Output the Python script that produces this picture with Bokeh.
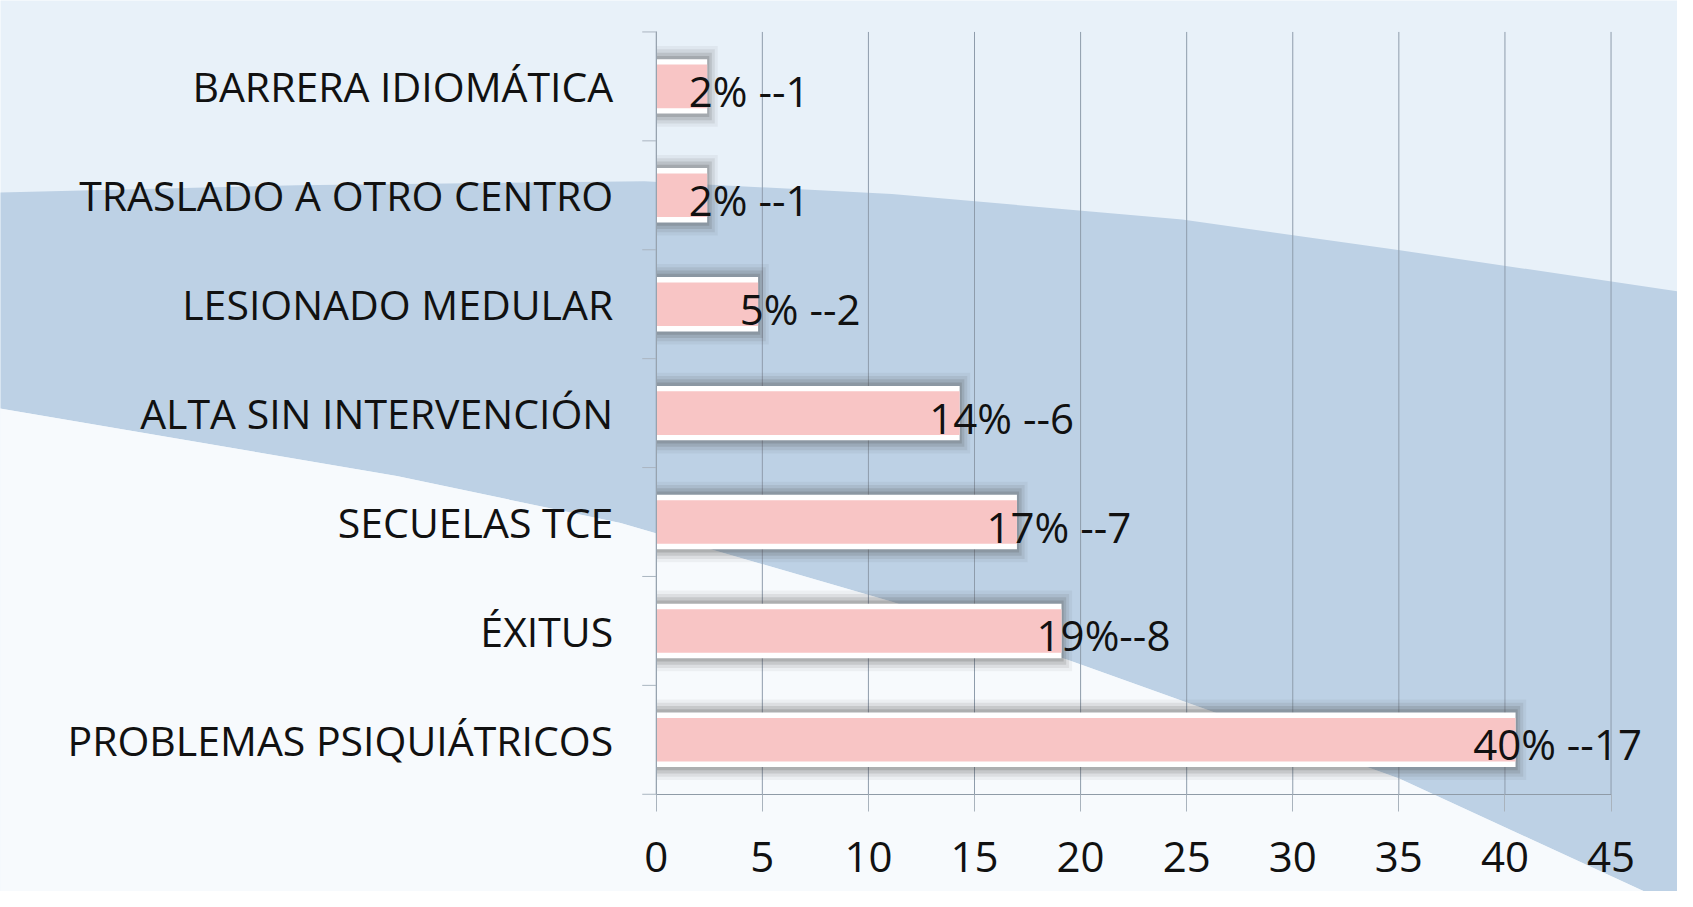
import math
from bokeh.plotting import figure
from bokeh.models import Range1d, LinearAxis, FixedTicker, ColumnDataSource
from bokeh.core.properties import value
from bokeh.embed import file_html
from bokeh.resources import INLINE

# ---- data (top to bottom as in the chart) ----
categories = ["BARRERA IDIOMÁTICA", "TRASLADO A OTRO CENTRO", "LESIONADO MEDULAR",
              "ALTA SIN INTERVENCIÓN", "SECUELAS TCE", "ÉXITUS", "PROBLEMAS PSIQUIÁTRICOS"]
percent = [2.4, 2.4, 4.8, 14.3, 17.0, 19.1, 40.5]
labels = ["2% --1", "2% --1", "5% --2", "14% --6", "17% --7", "19%--8", "40% --17"]
x_ticks = [0, 5, 10, 15, 20, 25, 30, 35, 40, 45]

FONT_NAME = "Open Sans"
FONT = value(FONT_NAME)
W, H = 1677, 891
KX, KY = W / 1693.0, H / 907.0     # reference-pixel -> canvas-pixel scale
X0_PX, XUNIT = 662.0 * KX, 21.42 * KX     # canvas x of value 0, px per unit
Y0_PX, YUNIT = 752.6 * KY, 110.86 * KY    # canvas y of bottom category, px per category

n = len(categories)
pos = [n - 1 - i for i in range(n)]

p = figure(width=W, height=H, output_backend="svg", toolbar_location=None,
           x_range=Range1d(-X0_PX / XUNIT, (W - X0_PX) / XUNIT),
           y_range=Range1d(-(H - Y0_PX) / YUNIT, Y0_PX / YUNIT),
           x_axis_type=None, y_axis_type=None, min_border=0)
p.outline_line_color = None
p.background_fill_color = "#e8f1f9"
p.border_fill_color = "#e8f1f9"

def px2x(px):
    return (px * KX - X0_PX) / XUNIT

def py2y(py):
    return (Y0_PX - py * KY) / YUNIT

# decorative background swoosh (outline in reference pixels)
top_edge = [(-20, 196), (300, 188), (650, 184), (900, 197), (1193, 223), (1411, 254), (1720, 300)]
bot_edge = [(1720, 935), (1412, 792), (1080, 672), (900, 612), (626, 532), (400, 484), (-20, 412)]
band = top_edge + bot_edge
p.patch([px2x(a) for a, b in band], [py2y(b) for a, b in band], color="#bdd1e5", line_color=None)
low = bot_edge + [(-20, 940)]
p.patch([px2x(a) for a, b in low], [py2y(b) for a, b in low], color="#f7fafd", line_color=None)

# grid lines (bounded to the plot area)
p.segment(x0=x_ticks, y0=[-0.5] * len(x_ticks), x1=x_ticks, y1=[n - 0.5] * len(x_ticks),
          line_color="#8e9cab", line_width=1)

# boundary tick marks of the category axis
boundaries = [i - 0.5 for i in range(n + 1)]
p.ray(x=[0] * len(boundaries), y=boundaries, length=14, length_units="screen",
      angle=math.pi, line_color="#aab5c0", line_width=1)

src = ColumnDataSource(dict(y=pos, v=percent, lab=labels,
                            s1=[v + 0.50 for v in percent],
                            s2=[v + 0.36 for v in percent],
                            s3=[v + 0.22 for v in percent],
                            s4=[v + 0.10 for v in percent]))

# shadow layers
for col, hgt, a in (("s1", 0.74, 0.06), ("s2", 0.68, 0.10), ("s3", 0.62, 0.15), ("s4", 0.56, 0.20)):
    p.hbar(y="y", left=0, right=col, height=hgt, source=src, fill_color="#4a4a4a",
           fill_alpha=a, line_color=None)
# white rim + pink fill
p.hbar(y="y", left=0, right="v", height=0.50, source=src, fill_color="#ffffff", line_color=None)
p.hbar(y="y", left=0, right="v", height=0.40, source=src, fill_color="#f8c5c5", line_color=None)

p.text(x="v", y="y", text="lab", source=src, x_offset=42, y_offset=4,
       text_align="center", text_baseline="middle", text_font=FONT,
       text_font_size="42px", text_color="#111111")

# category axis (line at 0, labels at the category centres)
ylab = LinearAxis(fixed_location=0, ticker=FixedTicker(ticks=pos), bounds=(-0.5, n - 0.5),
                  major_label_overrides={pv: c for pv, c in zip(pos, categories)},
                  axis_line_color="#97a3af", major_tick_line_color=None, minor_tick_line_color=None,
                  major_tick_out=0, major_tick_in=0, major_label_standoff=43,
                  major_label_text_font=FONT_NAME, major_label_text_font_size="41px",
                  major_label_text_color="#111111")
p.add_layout(ylab, "left")

# value axis
xax = LinearAxis(fixed_location=-0.5, ticker=FixedTicker(ticks=x_ticks), bounds=(0, 45),
                 axis_line_color="#8f9ba7", major_tick_line_color="#a9b3bd",
                 major_tick_out=17, major_tick_in=0, minor_tick_line_color=None,
                 major_label_standoff=31, major_label_text_font=FONT_NAME,
                 major_label_text_font_size="42px", major_label_text_color="#111111")
p.add_layout(xax, "below")

open("out.html", "w").write(file_html(p, INLINE))
